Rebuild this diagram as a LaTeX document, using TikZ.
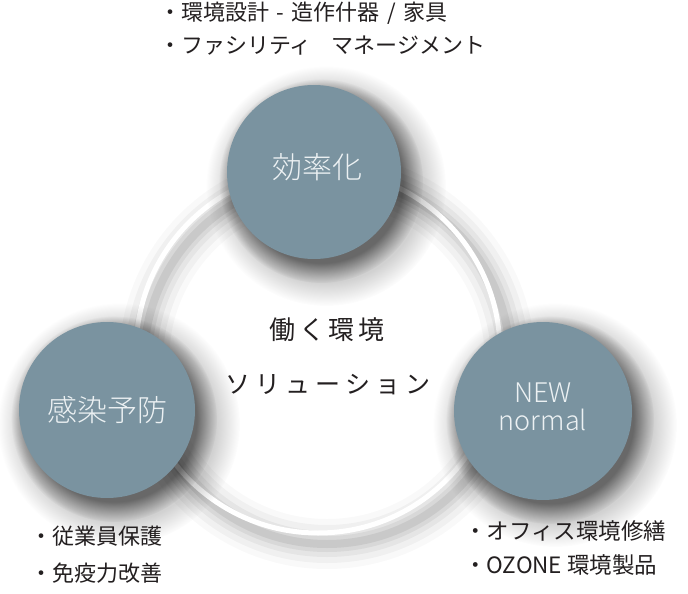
\documentclass[tikz,border=0pt]{standalone}
\usepackage{fontspec}
\usetikzlibrary{fadings}
\newfontfamily\jp{Noto Sans CJK JP}
\IfFontExistsTF{Noto Sans CJK JP Light}
  {\newfontfamily\jplight{Noto Sans CJK JP Light}}
  {\newfontfamily\jplight{Noto Sans CJK JP}}
\definecolor{bubblecol}{RGB}{122,147,160}
\definecolor{inkcol}{RGB}{35,31,32}
\definecolor{lbltext}{RGB}{236,241,243}
\tikzset{
  bubble/.style={fill=bubblecol},
  softshadow/.style={fill=black, opacity=0.5, path fading=circle with fuzzy edge 20 percent},
  wideshadow/.style={fill=black, opacity=0.18, path fading=circle with fuzzy edge 20 percent},
  bubbletext/.style={text=lbltext, font=\jplight\fontsize{30}{34}\selectfont, inner sep=0pt, align=center},
  listtext/.style={text=inkcol, anchor=west, inner sep=0pt},
  centertext/.style={text=inkcol, inner sep=0pt}
}
\begin{document}
\begin{tikzpicture}[x=1pt,y=-1pt]
\useasboundingbox (0,0) rectangle (688,594);
\fill[white] (0,0) rectangle (688,594);
% big ring shadow (offset down-right) and ring line
\coordinate (ringc) at (318,351);
\coordinate (ringsh) at (327,361);
\foreach \w/\o in {50/0.025, 38/0.035, 26/0.045, 16/0.055, 8/0.065} {
  \draw[black, opacity=\o, line width=\w pt] (ringsh) circle (183);
}
\draw[white, line width=5pt] (ringc) circle (182);
% bubble shadows
\fill[wideshadow] (326,186) circle (120);
\fill[wideshadow] (119,424) circle (121);
\fill[wideshadow] (555,425) circle (122);
\fill[softshadow] (321,181) circle (102);
\fill[softshadow] (114,419) circle (103);
\fill[softshadow] (550,420) circle (104);
% bubbles
\fill[bubble] (314,172) circle (87);
\fill[bubble] (107,410) circle (88);
\fill[bubble] (543,411) circle (89);
\node[bubbletext] (eff) at (317,167) {効率化};
\node[bubbletext] (inf) at (107,410) {感染予防};
\node[bubbletext, font=\jplight\fontsize{27}{28}\selectfont] (newn) at (543,407) {NEW\\normal};
% center
\node[centertext, font=\jp\fontsize{26}{30}\selectfont\addfontfeatures{LetterSpace=15}] (hat) at (327,330) {働く環境};
\node[centertext, font=\jp\fontsize{25}{30}\selectfont\addfontfeatures{LetterSpace=20}] (sol) at (328,385) {ソリューション};
% lists
\node[listtext, font=\jp\fontsize{22}{26}\selectfont] (t1) at (159,13) {・環境設計\hspace{0.12em} - \hspace{0.12em}造作什器\hspace{0.12em} / \hspace{0.12em}家具};
\node[listtext, font=\jp\fontsize{22}{26}\selectfont] (t2) at (159,46) {・ファシリティ\hspace{0.9em}マネージメント};
\node[listtext, font=\jp\fontsize{22}{26}\selectfont] (l1) at (30,536) {・従業員保護};
\node[listtext, font=\jp\fontsize{22}{26}\selectfont] (l2) at (30,573) {・免疫力改善};
\node[listtext, font=\jp\fontsize{22.5}{26}\selectfont] (r1) at (464,531) {・オフィス環境修繕};
\node[listtext, font=\jp\fontsize{22.5}{26}\selectfont] (r2) at (464,565) {・OZONE 環境製品};
\end{tikzpicture}
\end{document}
